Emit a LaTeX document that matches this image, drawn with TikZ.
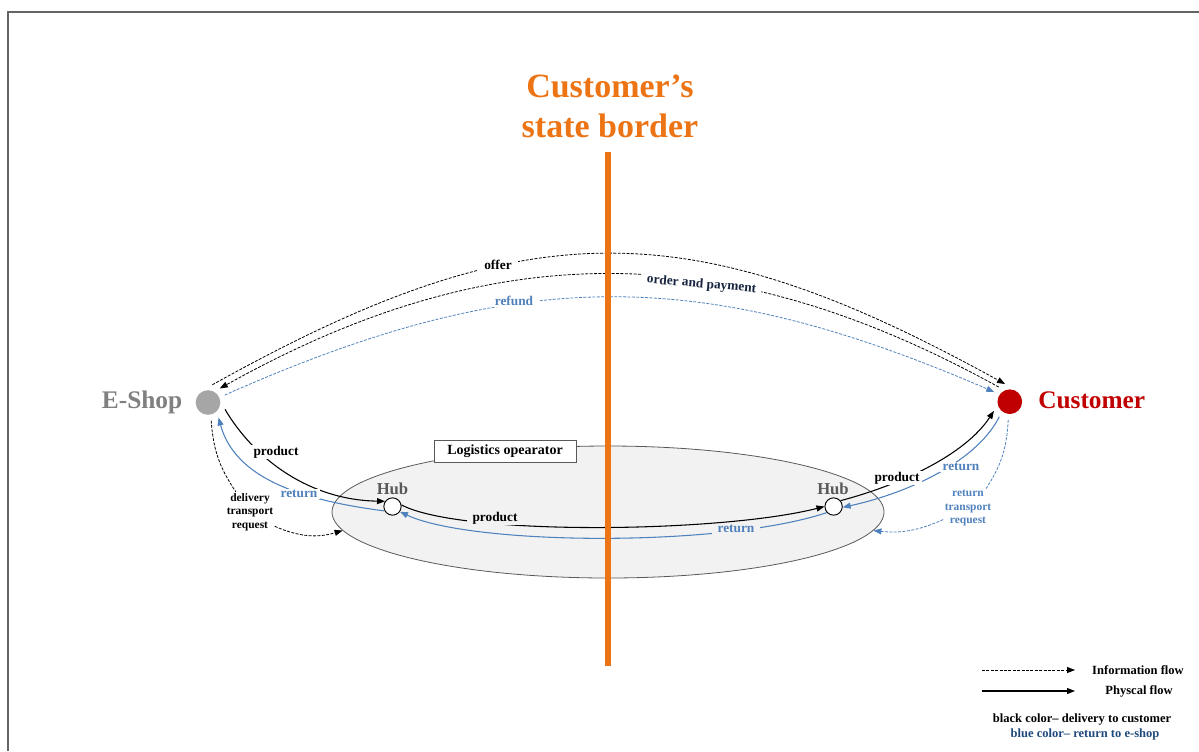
\documentclass[tikz,border=0pt]{standalone}
\usepackage{fontspec}
\setmainfont{Liberation Serif}
\usetikzlibrary{arrows.meta,shapes.geometric}
\definecolor{orangeB}{RGB}{236,116,20}
\definecolor{flowblue}{RGB}{79,129,189}
\definecolor{legblue}{RGB}{31,73,125}
\definecolor{navy}{RGB}{23,37,64}
\definecolor{shopgray}{RGB}{166,166,166}
\definecolor{shoptext}{RGB}{128,128,128}
\definecolor{custred}{RGB}{192,0,0}
\definecolor{hubgray}{RGB}{89,89,89}
\definecolor{ellfill}{RGB}{242,242,242}
\definecolor{framegray}{RGB}{100,100,100}
\tikzset{
  tipend/.style={-{Triangle[length=6pt,width=4.5pt]}},
  infodash/.style={line width=0.6pt, dash pattern=on 2.2pt off 1.1pt},
  infoline/.style={infodash, tipend},
  physline/.style={line width=0.8pt, tipend},
  lbl/.style={font=\bfseries\fontsize{10}{12}\selectfont, fill=white, inner xsep=2pt, inner ysep=1pt},
  smalllbl/.style={font=\bfseries\fontsize{8.6}{10}\selectfont, align=center, inner sep=1pt},
  legtext/.style={font=\bfseries\fontsize{9.4}{11}\selectfont, inner sep=0pt},
  hubnode/.style={circle, draw, fill=white, minimum size=13pt, inner sep=0pt, line width=0.7pt},
  hublbl/.style={font=\bfseries\fontsize{12.5}{14}\selectfont, text=hubgray, anchor=base, inner sep=0pt},
  bigdot/.style={circle, minimum size=18.5pt, inner sep=0pt, outer sep=4.5pt},
  titletext/.style={font=\bfseries\fontsize{25.5}{30}\selectfont, text=orangeB, anchor=base, inner sep=0pt}
}
\begin{document}
\begin{tikzpicture}[x=0.75pt,y=-0.75pt]
\useasboundingbox (0,0) rectangle (1199,751);
% frame
\coordinate (fa) at (8,751);
\coordinate (fb) at (8,12);
\coordinate (fc) at (1199,12);
\draw[framegray, line width=1pt] (fa) -- (fb) -- (fc);

% logistics ellipse
\node[ellipse, draw=hubgray, fill=ellfill, line width=0.6pt, minimum width=414pt, minimum height=99pt, inner sep=0pt] (ell) at (608,512) {};
\node[draw=hubgray, fill=white, line width=0.6pt, minimum width=106.5pt, minimum height=16.5pt, inner sep=0pt, font=\bfseries\fontsize{10.5}{12}\selectfont] (logi) at (505,451) {Logistics opearator};

% main nodes
\node[bigdot, fill=shopgray] (eshop) at (208,402.5) {};
\node[anchor=base east, inner sep=0pt, font=\bfseries\fontsize{19}{22}\selectfont, text=shoptext] (eshoplbl) at (182.5,408.5) {E-Shop};
\node[bigdot, fill=custred] (cust) at (1009.8,401.7) {};
\node[anchor=base west, inner sep=0pt, font=\bfseries\fontsize{19}{22}\selectfont, text=custred] (custlbl) at (1038,408.5) {Customer};

\node[hubnode] (hubL) at (392.5,506.5) {};
\node[hubnode] (hubR) at (833.6,506.5) {};
\node[hublbl] (hubLt) at (392.5,494) {Hub};
\node[hublbl] (hubRt) at (833,494) {Hub};

% request labels
\node[smalllbl] (dtr) at (250,512) {delivery\\transport\\request};
\node[smalllbl, text=flowblue] (rtr) at (968,508) {return\\transport\\request};

% information flows (top arcs)
\draw[infoline] (eshop.76) .. controls (526,210) and (690,210) .. (cust.105);
\draw[infoline] (cust.127) .. controls (725,236) and (493,236) .. (eshop.50);
\draw[infoline, flowblue] (eshop.24) .. controls (518,265) and (700,265) .. (cust.148);

% transport requests
\draw[infodash] (eshop.-80) to[bend right=15] (dtr.125);
\draw[infoline] (dtr.-30) to[bend right=20] (ell.184);
\draw[infodash, flowblue] (cust.-95) to[bend left=15] (rtr.47);
\draw[infoline, flowblue] (rtr.205) to[bend left=15] (ell.-4);

% physical flows
\draw[physline] (eshop.-22) .. controls (255,460) and (310,500) .. (hubL.145);
\draw[physline, flowblue] (hubL.209) .. controls (300,500) and (235,478) .. (eshop.-55);
\draw[physline] (hubL.10) .. controls (460,536) and (720,533) .. (hubR.180);
\draw[physline, flowblue] (hubR.222) .. controls (720,548) and (470,545) .. (hubL.-35);
\draw[physline] (hubR.40) .. controls (900,485) and (965,455) .. (cust.210);
\draw[physline, flowblue] (cust.-125) .. controls (975,465) and (900,495) .. (hubR.-5);

% edge labels
\node[lbl, inner xsep=5pt] (offerlbl) at (498,265) {offer};
\node[lbl, inner xsep=4pt, text=navy, rotate=-5] (orderlbl) at (701.5,284.5) {order and payment};
\node[lbl, inner xsep=5pt, text=flowblue] (refundlbl) at (514,301) {refund};
\node[lbl] (prod1) at (276,452) {product};
\node[lbl, text=flowblue] (ret1) at (299,494) {return};
\node[lbl, fill=ellfill, inner xsep=4pt] (prod2) at (495,518) {product};
\node[lbl, fill=ellfill, inner xsep=4pt, text=flowblue] (ret2) at (736,529) {return};
\node[lbl] (prod3) at (897,478) {product};
\node[lbl, text=flowblue] (ret3) at (961,467) {return};

% state border
\coordinate (bt) at (608,152);
\coordinate (bb) at (608,666);
\draw[orangeB, line width=4.5pt] (bt) -- (bb);
\node[titletext] (t1) at (610,97.5) {Customer’s};
\node[titletext] (t2) at (610,137.5) {state border};

% legend
\coordinate (l1a) at (982,670);
\coordinate (l1b) at (1075,670);
\coordinate (l2a) at (982,691);
\coordinate (l2b) at (1075,691);
\draw[infoline] (l1a) -- (l1b);
\draw[physline] (l2a) -- (l2b);
\node[legtext] (leg1) at (1138,670) {Information flow};
\node[legtext] (leg2) at (1139,691) {Physcal flow};
\node[legtext] (leg3) at (1082,719) {black color\textendash\ delivery to customer};
\node[legtext, text=legblue] (leg4) at (1085,734) {blue color\textendash\ return to e-shop};
\end{tikzpicture}
\end{document}
